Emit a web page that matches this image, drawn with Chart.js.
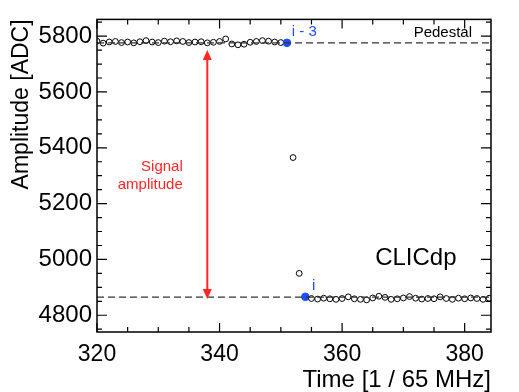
<!DOCTYPE html>
<html>
<head>
<meta charset="utf-8">
<script src="https://cdn.jsdelivr.net/npm/chart.js@4.4.1/dist/chart.umd.min.js"></script>
<style>
html,body{margin:0;padding:0;background:#fff;}
#wrap{width:519px;height:392px;position:relative;}
</style>
</head>
<body>
<div id="wrap"><canvas id="c" width="519" height="392"></canvas></div>
<script>
// ---- data ----
const times = [320,321,322,323,324,325,326,327,328,329,330,331,332,333,334,335,336,337,338,339,340,
  341,342,343,344,345,346,347,348,349,350,351,352,353,354,355,356,357,358,359,360,
  361,362,363,364,365,366,367,368,369,370,371,372,373,374,375,376,377,378,379,380,381,382,383,384];
const amplitudes = [5782,5775,5779,5781,5777,5779,5776,5780,5784,5779,5777,5782,5780,5783,5781,5777,5779,5780,5776,5778,5781,
  5790,5772,5769,5771,5778,5781,5784,5782,5779,5777,5776,5365,4950,4866,4860,4858,4861,4859,4857,4860,
  4866,4859,4857,4855,4862,4868,4864,4857,4859,4862,4867,4861,4858,4860,4859,4866,4860,4857,4861,4859,4862,4860,4857,4861];
const highlightTimes = [351, 354];
const highlightLabels = ['i - 3', 'i'];
const pedestalHigh = 5776;
const pedestalLow = 4865;
const arrowTime = 338;
const arrowRange = [5750, 4858];
const xTickLabels = [320, 340, 360, 380];
const yTickLabels = [4800, 5000, 5200, 5400, 5600, 5800];
const xRange = [320, 384.3];
const yRange = [4740, 5860];

const FONT = "'Liberation Sans', Arial, Helvetica, sans-serif";
const BLUE = '#1d4fff';
const RED = '#ff2626';

const points = times.map((t, i) => ({x: t, y: amplitudes[i]}));

const decor = {
  id: 'decor',
  afterDraw(chart) {
    const ctx = chart.ctx;
    const xs = chart.scales.x, ys = chart.scales.y;
    const a = chart.chartArea;
    ctx.save();
    // frame
    ctx.strokeStyle = '#000';
    ctx.lineWidth = 1.5;
    ctx.strokeRect(a.left, a.top, a.right - a.left, a.bottom - a.top);
    // ticks inward
    ctx.lineWidth = 1.2;
    ctx.beginPath();
    for (let v = 320; v <= xRange[1]; v += 5) {
      const p = xs.getPixelForValue(v);
      const len = (v % 20 === 0) ? 9 : 5;
      ctx.moveTo(p, a.bottom); ctx.lineTo(p, a.bottom - len);
      ctx.moveTo(p, a.top); ctx.lineTo(p, a.top + len);
    }
    for (let v = 4750; v <= yRange[1]; v += 50) {
      const p = ys.getPixelForValue(v);
      const len = (v % 200 === 0) ? 10 : 5;
      ctx.moveTo(a.left, p); ctx.lineTo(a.left + len, p);
      ctx.moveTo(a.right, p); ctx.lineTo(a.right - len, p);
    }
    ctx.stroke();

    // arrow
    const xp = xs.getPixelForValue(arrowTime);
    const yTop = ys.getPixelForValue(arrowRange[0]);
    const yBot = ys.getPixelForValue(arrowRange[1]);
    const hl = 10, hw = 4.5;
    ctx.strokeStyle = RED; ctx.fillStyle = RED; ctx.lineWidth = 2;
    ctx.beginPath(); ctx.moveTo(xp, yTop + hl - 1); ctx.lineTo(xp, yBot - hl + 1); ctx.stroke();
    ctx.beginPath(); ctx.moveTo(xp, yTop); ctx.lineTo(xp - hw, yTop + hl); ctx.lineTo(xp + hw, yTop + hl); ctx.closePath(); ctx.fill();
    ctx.beginPath(); ctx.moveTo(xp, yBot); ctx.lineTo(xp - hw, yBot - hl); ctx.lineTo(xp + hw, yBot - hl); ctx.closePath(); ctx.fill();

    // texts
    ctx.textBaseline = 'middle';
    ctx.font = '15px ' + FONT;
    ctx.fillStyle = RED; ctx.textAlign = 'right';
    ctx.fillText('Signal', xs.getPixelForValue(334.0), ys.getPixelForValue(5332));
    ctx.fillText('amplitude', xs.getPixelForValue(334.0), ys.getPixelForValue(5268));

    ctx.fillStyle = '#000'; ctx.textAlign = 'right';
    ctx.fillText('Pedestal', xs.getPixelForValue(381.2), ys.getPixelForValue(5813));

    ctx.fillStyle = BLUE; ctx.textAlign = 'left';
    ctx.fillText(highlightLabels[0], xs.getPixelForValue(351.8), ys.getPixelForValue(5817));
    ctx.fillText(highlightLabels[1], xs.getPixelForValue(355.1), ys.getPixelForValue(4906));

    ctx.fillStyle = '#000'; ctx.textAlign = 'left';
    ctx.font = '24px ' + FONT;
    ctx.fillText('CLICdp', xs.getPixelForValue(365.4), ys.getPixelForValue(5004));
    ctx.restore();
  }
};

new Chart(document.getElementById('c'), {
  type: 'scatter',
  data: {
    datasets: [
      {
        type: 'line',
        data: [{x: xRange[0], y: pedestalHigh}, {x: xRange[1], y: pedestalHigh}],
        borderColor: '#333', borderWidth: 1.2, borderDash: [7, 4], pointRadius: 0, fill: false
      },
      {
        type: 'line',
        data: [{x: xRange[0], y: pedestalLow}, {x: xRange[1], y: pedestalLow}],
        borderColor: '#333', borderWidth: 1.2, borderDash: [7, 4], pointRadius: 0, fill: false
      },
      {
        data: points,
        showLine: false,
        pointStyle: 'circle',
        pointRadius: c => highlightTimes.includes(times[c.dataIndex]) ? 3.8 : 2.9,
        pointBorderWidth: 1,
        pointBorderColor: c => highlightTimes.includes(times[c.dataIndex]) ? BLUE : '#000',
        pointBackgroundColor: c => highlightTimes.includes(times[c.dataIndex]) ? BLUE : 'rgba(0,0,0,0)',
        clip: 0
      }
    ]
  },
  options: {
    responsive: false,
    animation: false,
    events: [],
    layout: {padding: {left: 0, right: 28, top: 18, bottom: 0}},
    plugins: {legend: {display: false}, tooltip: {enabled: false}},
    scales: {
      x: {
        type: 'linear', min: xRange[0], max: xRange[1],
        grid: {display: false, drawTicks: false},
        border: {display: false},
        afterBuildTicks: s => { s.ticks = xTickLabels.map(v => ({value: v})); },
        afterFit: s => { s.height = 60; },
        ticks: {color: '#000', font: {family: FONT, size: 23}, padding: 9, maxRotation: 0, autoSkip: false,
          callback: v => String(v)},
        title: {display: true, text: 'Time [1 / 65 MHz]', align: 'end', color: '#000',
          font: {family: FONT, size: 24, lineHeight: 1}, padding: {top: 0, bottom: 0}}
      },
      y: {
        type: 'linear', min: yRange[0], max: yRange[1],
        grid: {display: false, drawTicks: false},
        border: {display: false},
        afterBuildTicks: s => { s.ticks = yTickLabels.map(v => ({value: v})); },
        afterFit: s => { s.width = 97; },
        ticks: {color: '#000', font: {family: FONT, size: 24}, padding: 5, autoSkip: false,
          callback: v => String(v)},
        title: {display: true, text: 'Amplitude [ADC]', align: 'end', color: '#000',
          font: {family: FONT, size: 23, lineHeight: 1}, padding: {top: 10, bottom: 0}}
      }
    }
  },
  plugins: [decor]
});
</script>
</body>
</html>
